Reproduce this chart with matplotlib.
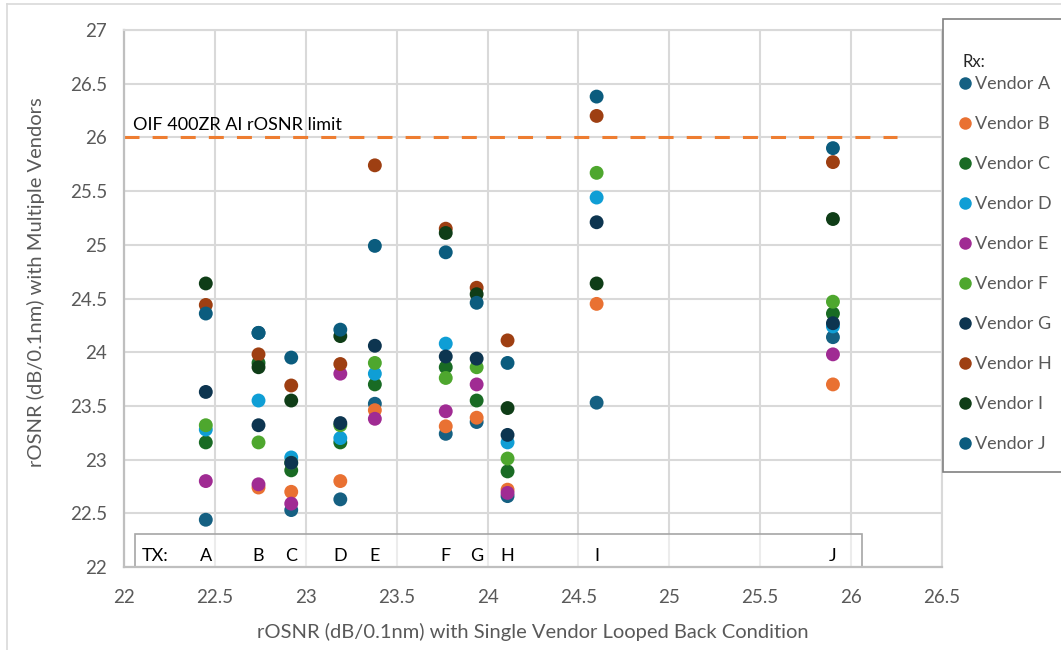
import numpy as np
import matplotlib
matplotlib.use("Agg")
import matplotlib.pyplot as plt
from matplotlib.lines import Line2D
from matplotlib.patches import Rectangle

plt.rcParams["font.family"] = ["Lato", "DejaVu Sans"]

# -------------------------------------------------
# Data
# -------------------------------------------------

tx_labels = ["A", "B", "C", "D", "E", "F", "G", "H", "I", "J"]
# single-vendor looped back rOSNR of each TX
tx_x = [22.45, 22.74, 22.92, 23.19, 23.38, 23.77, 23.94, 24.11, 24.60, 25.90]

vendors = ["Vendor A", "Vendor B", "Vendor C", "Vendor D", "Vendor E",
           "Vendor F", "Vendor G", "Vendor H", "Vendor I", "Vendor J"]
colors = ["#156082", "#E97132", "#196B24", "#0F9ED5", "#A02B93",
          "#4EA72E", "#0D3550", "#9E3F12", "#0F3D17", "#0B5C7E"]

# rOSNR measured by each Rx vendor, one value per TX (nan = hidden/not visible)
nan = np.nan
rx_a = [22.44, 24.18, 22.53, 22.63, 23.52, 23.24, 23.35, 22.66, 23.53, 24.14]
rx_b = [nan, 22.74, 22.70, 22.80, 23.46, 23.31, 23.39, 22.72, 24.45, 23.70]
rx_c = [23.16, 23.90, 22.90, 23.16, 23.70, 23.86, 23.55, 22.89, nan, 24.36]
rx_d = [23.28, 23.55, 23.02, 23.20, 23.80, 24.08, nan, 23.16, 25.44, 24.24]
rx_e = [22.80, 22.77, 22.59, 23.80, 23.38, 23.45, 23.70, 22.69, nan, 23.98]
rx_f = [23.32, 23.16, 22.97, 23.32, 23.90, 23.76, 23.86, 23.01, 25.67, 24.47]
rx_g = [23.63, 23.32, 22.97, 23.34, 24.06, 23.96, 23.94, 23.23, 25.21, 24.27]
rx_h = [24.44, 23.98, 23.69, 23.89, 25.74, 25.15, 24.60, 24.11, 26.20, 25.77]
rx_i = [24.64, 23.86, 23.55, 24.15, nan, 25.11, 24.54, 23.48, 24.64, 25.24]
rx_j = [24.36, 24.18, 23.95, 24.21, 24.99, 24.93, 24.46, 23.90, 26.38, 25.90]
rx_values = [rx_a, rx_b, rx_c, rx_d, rx_e, rx_f, rx_g, rx_h, rx_i, rx_j]

limit_value = 26.0
limit_x = [22.0, 26.25]

# -------------------------------------------------
# Plot
# -------------------------------------------------

W, H = 1061, 650
fig = plt.figure(figsize=(W / 100, H / 100), dpi=100)
ax = fig.add_axes([124 / W, 1 - 567 / H, 818 / W, 537 / H])

grid_color = "#D9D9D9"
text_gray = "#595959"

for name, color, vals in zip(vendors, colors, rx_values):
    ax.scatter(tx_x, vals, s=100, color=color, edgecolors="none",
               label=name, zorder=3)

# OIF limit line
ax.plot(limit_x, [limit_value, limit_value], color="#EE7D31", lw=2.2,
        dashes=(4.9, 4.3), zorder=2)
ax.text(22.05, limit_value + 0.07, "OIF 400ZR AI rOSNR limit",
        fontsize=13, color="black", va="baseline", ha="left")

# TX annotation box
ax.add_patch(Rectangle((22.06, 22.0), 4.0, 0.31, facecolor="white", alpha=0.5,
                       edgecolor="none", zorder=2))
ax.add_patch(Rectangle((22.06, 22.0), 4.0, 0.31, facecolor="none",
                       edgecolor="#A6A6A6", lw=1.2, zorder=2))
ax.text(22.1, 22.1, "TX:", fontsize=13, color="black", va="center", ha="left")
for lab, x in zip(tx_labels, tx_x):
    ax.text(x, 22.1, lab, fontsize=13, color="black", va="center", ha="center")

ax.set_xlim(22, 26.5)
ax.set_ylim(22, 27)
ax.set_xticks(np.arange(22, 26.51, 0.5))
ax.set_yticks(np.arange(22, 27.01, 0.5))
ax.set_xticklabels(["22", "22.5", "23", "23.5", "24", "24.5", "25", "25.5", "26", "26.5"])
ax.set_yticklabels(["22", "22.5", "23", "23.5", "24", "24.5", "25", "25.5", "26", "26.5", "27"])
ax.grid(True, color=grid_color, lw=1.5, zorder=0)
ax.set_axisbelow(True)
ax.tick_params(axis="both", length=0, labelsize=13.5, colors=text_gray)
ax.tick_params(axis="x", pad=16)
ax.tick_params(axis="y", pad=12)

for side in ["left", "bottom"]:
    ax.spines[side].set_color("#BFBFBF")
    ax.spines[side].set_linewidth(1.6)
for side in ["top", "right"]:
    ax.spines[side].set_color(grid_color)
    ax.spines[side].set_linewidth(1.5)

ax.set_xlabel("rOSNR (dB/0.1nm) with Single Vendor Looped Back Condition",
              fontsize=14.5, color=text_gray)
ax.set_ylabel("rOSNR (dB/0.1nm) with Multiple Vendors",
              fontsize=14.5, color=text_gray)
ax.xaxis.set_label_coords(0.5, -0.105)
ax.yaxis.set_label_coords(-0.097, 0.53)

# Legend (box drawn separately so it can run off the right edge)
fig.add_artist(Rectangle((943 / W, 1 - 472 / H), 0.2, 453 / H,
                         transform=fig.transFigure, facecolor="white",
                         edgecolor="#808080", lw=1.2))
fig.text(962 / W, 1 - 62 / H, "Rx:", fontsize=12, color="#262626",
         va="center", ha="left")
handles = [Line2D([], [], marker="o", ls="none", markersize=9,
                  markerfacecolor=c, markeredgecolor="none") for c in colors]
leg = fig.legend(handles, vendors, loc="upper left",
                 bbox_to_anchor=(958 / W, 1 - 76 / H),
                 fontsize=13, frameon=False,
                 labelspacing=1.33, handletextpad=0.15, handlelength=0.8,
                 borderpad=0, borderaxespad=0)
for t in leg.get_texts():
    t.set_color(text_gray)

# Outer chart border
fig.add_artist(Line2D([7 / W, 7 / W], [0, 1 - 4 / H],
                      transform=fig.transFigure, color=grid_color, lw=1.2))
fig.add_artist(Line2D([7 / W, 1], [1 - 4 / H, 1 - 4 / H],
                      transform=fig.transFigure, color=grid_color, lw=1.2))

fig.savefig("out.png", dpi=100)
